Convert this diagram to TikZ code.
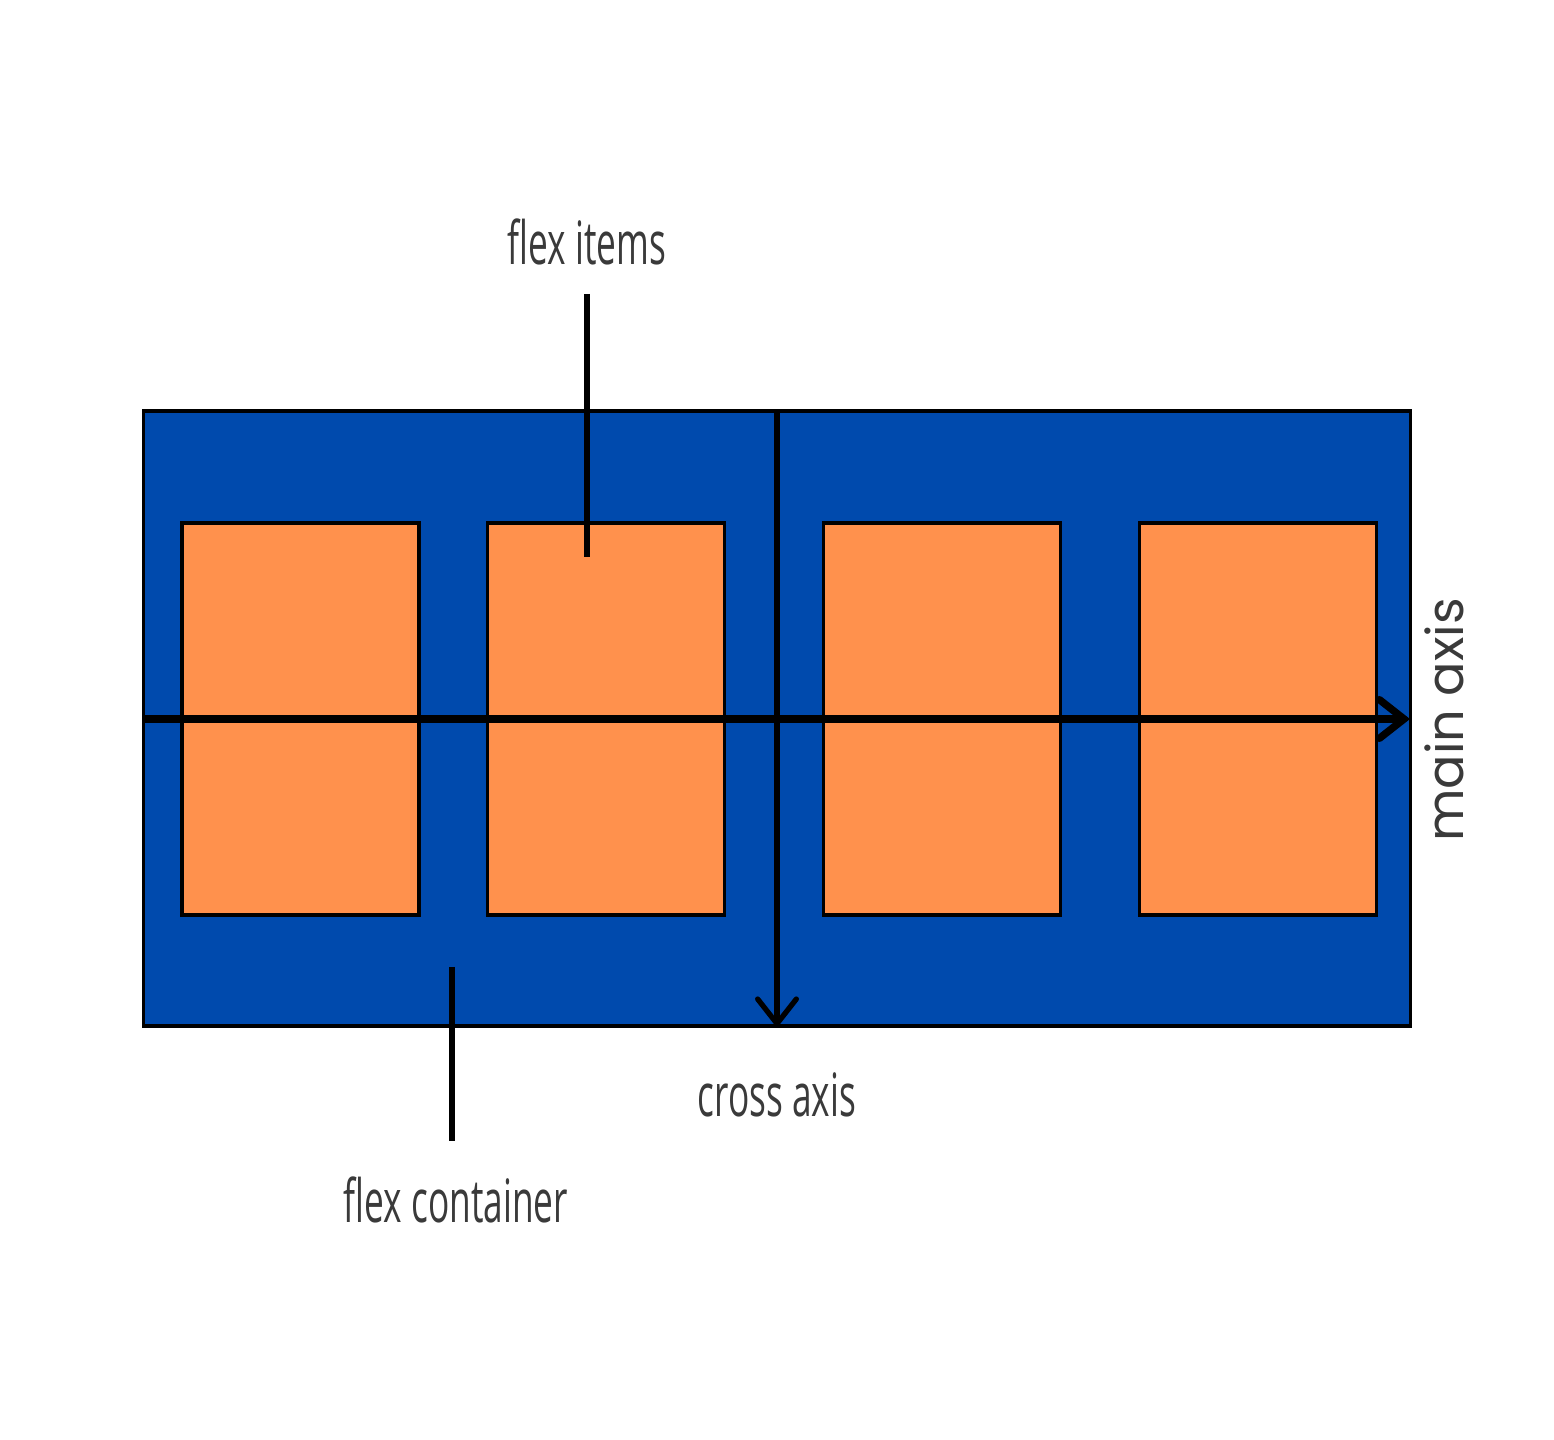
\documentclass[tikz,border=0pt]{standalone}
\usepackage{fontspec}
\setmainfont{Open Sans}
\newfontfamily\condfont[FakeStretch=0.59]{Open Sans}
\newfontfamily\axisfont{Poppins}
\usetikzlibrary{arrows.meta}
\definecolor{flexblue}{HTML}{004AAD}
\definecolor{flexorange}{HTML}{FF914D}
\definecolor{txtgray}{HTML}{3A3A3A}
\tikzset{
  containerbox/.style={draw=black, line width=1pt, fill=flexblue, inner sep=0pt, minimum width=12.66cm, minimum height=6.15cm},
  itembox/.style={draw=black, line width=1pt, fill=flexorange, inner sep=0pt, minimum width=2.37cm, minimum height=3.92cm},
  condlabel/.style={font=\condfont\fontsize{17}{20}\selectfont, text=txtgray, inner sep=0pt},
  axislabel/.style={font=\axisfont\fontsize{14.5}{17}\selectfont, text=txtgray, inner sep=0pt},
  pointer/.style={line width=1.7pt, black},
  axisarrow/.style={line width=1.9pt, black, -{Straight Barb[length=7pt, width=11pt, line cap=round]}},
}
\begin{document}
\begin{tikzpicture}[x=0.01cm, y=-0.01cm]
\useasboundingbox (0,0) rectangle (1554,1440);
\node[containerbox] (cont) at (777,718.5) {};
\node[itembox] (i1) at (300.5,719) {};
\node[itembox] (i2) at (606,719) {};
\node[itembox] (i3) at (942,719) {};
\node[itembox] (i4) at (1258,719) {};
\coordinate (hl) at (145,719);
\coordinate (hr) at (1410,719);
\draw[axisarrow, line width=2.1pt] (hl) -- (hr);
\draw[axisarrow, line width=1.5pt] (cont.north) -- (cont.south);
\node[condlabel] (fitxt) at (587,242) {flex items};
\coordinate (fitop) at (587,294);
\coordinate (fibot) at (587,557);
\draw[pointer] (fitop) -- (fibot);
\node[condlabel] (fctxt) at (456,1200) {flex container};
\coordinate (fctop) at (452,967);
\coordinate (fcbot) at (452,1141);
\draw[pointer] (fctop) -- (fcbot);
\node[condlabel] (catxt) at (777,1095) {cross axis};
\node[axislabel, rotate=90] (matxt) at (1444,720) {main axis};
\end{tikzpicture}
\end{document}
